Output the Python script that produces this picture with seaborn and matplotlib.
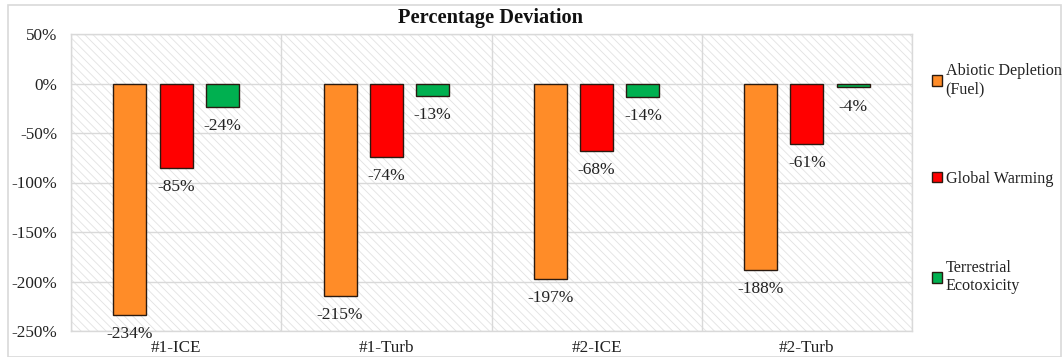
import matplotlib
matplotlib.use("Agg")
import matplotlib.pyplot as plt
import matplotlib.patches as mpatches
from matplotlib.ticker import FixedLocator, FuncFormatter
import seaborn as sns
import pandas as pd

cases = ["#1-ICE", "#1-Turb", "#2-ICE", "#2-Turb"]
series = ["Abiotic Depletion\n(Fuel)", "Global Warming", "Terrestrial\nEcotoxicity"]
abiotic = [-234, -215, -197, -188]
warming = [-85, -74, -68, -61]
ecotox = [-24, -13, -14, -4]
colors = ["#FF8C28", "#FF0000", "#00B050"]

rows = []
for name, vals in zip(series, [abiotic, warming, ecotox]):
    for c, v in zip(cases, vals):
        rows.append({"case": c, "category": name, "value": v})
df = pd.DataFrame(rows)

sns.set_style("white")
plt.rcParams["font.family"] = ["Liberation Serif", "DejaVu Serif"]
plt.rcParams["hatch.linewidth"] = 0.6

fig = plt.figure(figsize=(10.64, 3.57), dpi=100)
ax = fig.add_axes([71/1064, 1-331/357, (912-71)/1064, (331-34)/357])

# outer chart border
fig.patches.append(mpatches.Rectangle((8/1064, 0), 1053/1064, 1-5/357, transform=fig.transFigure,
                                      fill=False, edgecolor="#d9d9d9", lw=1.2, zorder=0))

# hatched plot background
ax.add_patch(mpatches.Rectangle((0, 0), 1, 1, transform=ax.transAxes, facecolor="white",
                                edgecolor="#e2e2e2", hatch="\\\\\\\\", lw=0, zorder=0))

sns.barplot(data=df, x="case", y="value", hue="category", hue_order=series, order=cases,
            palette=colors, saturation=1, width=0.66, gap=0.29, edgecolor="#2a1a10",
            linewidth=1.0, ax=ax, zorder=3, legend=False)

for cont in ax.containers:
    ax.bar_label(cont, fmt="{:.0f}%", padding=8, fontsize=12.5, color="#222222")

ax.set_ylim(-250, 50)
ax.set_xlim(-0.5, 3.5)
ax.yaxis.set_major_locator(FixedLocator(range(-250, 51, 50)))
ax.yaxis.set_major_formatter(FuncFormatter(lambda v, p: f"{int(v)}%"))
ax.xaxis.set_minor_locator(FixedLocator([-0.5, 0.5, 1.5, 2.5, 3.5]))
ax.grid(True, axis="y", which="major", color="#d9d9d9", lw=1.0, zorder=1)
ax.grid(True, axis="x", which="minor", color="#d9d9d9", lw=1.0, zorder=1)
ax.set_axisbelow(True)
ax.set_xlabel("")
ax.set_ylabel("")
ax.tick_params(axis="both", which="both", length=0, labelsize=12.3, colors="#222222")
ax.tick_params(axis="x", pad=6.5)
ax.tick_params(axis="y", pad=10)
for s in ax.spines.values():
    s.set_color("#d9d9d9")
    s.set_linewidth(1.0)

fig.text(491/1064, 1-18/357, "Percentage Deviation", ha="center", va="center",
         fontsize=14.7, fontweight="bold", color="#111111")

handles = [mpatches.Patch(facecolor=c, edgecolor="#2a1a10", lw=1.0) for c in colors]
fig.legend(handles, series, loc="upper left", bbox_to_anchor=(924/1064, 1-55/357),
           frameon=False, fontsize=11.6, labelspacing=4.55, handlelength=0.6,
           handleheight=0.6, handletextpad=0.25, borderpad=0, labelcolor="#222222")

fig.savefig("out.png", dpi=100)
